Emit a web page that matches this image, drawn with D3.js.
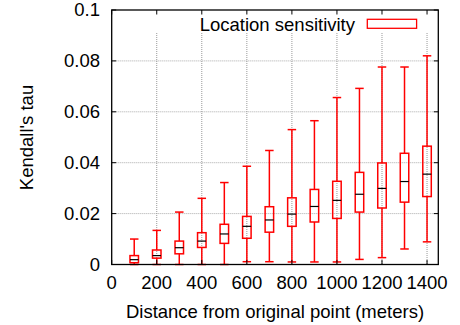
<!DOCTYPE html>
<html><head><meta charset="utf-8">
<script src="https://cdn.jsdelivr.net/npm/d3@7"></script>
<style>body{margin:0;background:#fff}svg{display:block}text{font-family:"Liberation Sans",Arial,sans-serif}</style>
</head><body><svg id="c" width="460" height="325"></svg>
<script>
const distances = [100,200,300,400,500,600,700,800,900,1000,1100,1200,1300,1400];
const whiskerLow = [0,0,0,0,0,0.0011,0.0011,0.001,0.001,0.001,0.002,0.0027,0.0061,0.0089];
const q1 =        [0.0007,0.0025,0.0042,0.0067,0.0083,0.0103,0.0127,0.015,0.0167,0.0181,0.0206,0.0222,0.0245,0.0267];
const medians =   [0.0019,0.0035,0.0066,0.0092,0.012,0.015,0.0175,0.0198,0.0228,0.0252,0.0276,0.0299,0.0326,0.0355];
const q3 =        [0.0035,0.0057,0.0092,0.0125,0.0158,0.0189,0.0227,0.0262,0.0295,0.0327,0.0362,0.0399,0.0437,0.0465];
const whiskerHigh=[0.0100,0.0134,0.0206,0.026,0.0322,0.0386,0.0448,0.053,0.0565,0.0656,0.0692,0.0776,0.0776,0.082];
const xTicks = [0,200,400,600,800,1000,1200,1400];
const yTicks = [0,0.02,0.04,0.06,0.08,0.1];
const yTickLabels = ["0","0.02","0.04","0.06","0.08","0.1"];
const legendLabel = "Location sensitivity";

const svg = d3.select("#c");
const L=111.7, R=438.3, T=10, B=264.5;
const x = d3.scaleLinear().domain([0,1450]).range([L,R]);
const y = d3.scaleLinear().domain([0,0.1]).range([B,T]);
const red = "#ff0000";
const fs = 18.5;

// horizontal grid
svg.append("g").selectAll("line").data(yTicks.slice(1,-1)).join("line")
  .attr("x1",L).attr("x2",R).attr("y1",d=>y(d)).attr("y2",d=>y(d))
  .attr("stroke","#aaa").attr("stroke-width",1).attr("stroke-dasharray","1,1");
// vertical grid
svg.append("g").selectAll("line").data(xTicks.slice(1)).join("line")
  .attr("x1",d=>x(d)).attr("x2",d=>x(d)).attr("y1",33).attr("y2",B)
  .attr("stroke","#999").attr("stroke-width",1).attr("stroke-dasharray","1,1");

// boxes
const bw = 8.5;
const g = svg.append("g");
distances.forEach((d,i)=>{
  const cx = x(d);
  g.append("line").attr("x1",cx).attr("x2",cx).attr("y1",y(whiskerLow[i])).attr("y2",y(q1[i]))
    .attr("stroke",red).attr("stroke-width",1.5);
  g.append("line").attr("x1",cx).attr("x2",cx).attr("y1",y(q3[i])).attr("y2",y(whiskerHigh[i]))
    .attr("stroke",red).attr("stroke-width",1.5);
  g.append("line").attr("x1",cx-bw/2).attr("x2",cx+bw/2).attr("y1",y(whiskerHigh[i])).attr("y2",y(whiskerHigh[i]))
    .attr("stroke",red).attr("stroke-width",1.5);
  g.append("line").attr("x1",cx-bw/2).attr("x2",cx+bw/2).attr("y1",y(whiskerLow[i])).attr("y2",y(whiskerLow[i]))
    .attr("stroke",red).attr("stroke-width",1.5);
  g.append("rect").attr("x",cx-bw/2).attr("width",bw).attr("y",y(q3[i])).attr("height",y(q1[i])-y(q3[i]))
    .attr("fill","none").attr("stroke",red).attr("stroke-width",1.5);
  g.append("line").attr("x1",cx-bw/2).attr("x2",cx+bw/2).attr("y1",y(medians[i])).attr("y2",y(medians[i]))
    .attr("stroke","#000").attr("stroke-width",1.2);
});

// border
svg.append("rect").attr("x",L).attr("y",T).attr("width",R-L).attr("height",B-T)
  .attr("fill","none").attr("stroke","#000").attr("stroke-width",1.3);

// axes with inward ticks
const ax = svg.append("g");
xTicks.forEach(t=>{
  ax.append("line").attr("x1",x(t)).attr("x2",x(t)).attr("y1",B).attr("y2",B-4.5).attr("stroke","#000");
  ax.append("line").attr("x1",x(t)).attr("x2",x(t)).attr("y1",T).attr("y2",T+4.5).attr("stroke","#000");
});
yTicks.forEach(t=>{
  ax.append("line").attr("x1",L).attr("x2",L+4.5).attr("y1",y(t)).attr("y2",y(t)).attr("stroke","#000");
  ax.append("line").attr("x1",R).attr("x2",R-4.5).attr("y1",y(t)).attr("y2",y(t)).attr("stroke","#000");
});
svg.append("g").selectAll("text").data(xTicks).join("text")
  .attr("x",d=>x(d)).attr("y",289).attr("text-anchor","middle").attr("font-size",fs).text(d=>d);
svg.append("g").selectAll("text").data(yTicks).join("text")
  .attr("x",100).attr("y",d=>y(d)+6.3).attr("text-anchor","end").attr("font-size",fs).text((d,i)=>yTickLabels[i]);

svg.append("text").attr("x",275).attr("y",317.5).attr("text-anchor","middle").attr("font-size",fs)
  .text("Distance from original point (meters)");
svg.append("text").attr("transform","translate(32.5,137.5) rotate(-90)").attr("text-anchor","middle").attr("font-size",fs)
  .text("Kendall's tau");

// legend
svg.append("text").attr("x",355).attr("y",31).attr("text-anchor","end").attr("font-size",fs).text(legendLabel);
svg.append("rect").attr("x",367.3).attr("y",19.3).attr("width",49.3).attr("height",9)
  .attr("fill","none").attr("stroke",red).attr("stroke-width",1.3);
</script></body></html>
